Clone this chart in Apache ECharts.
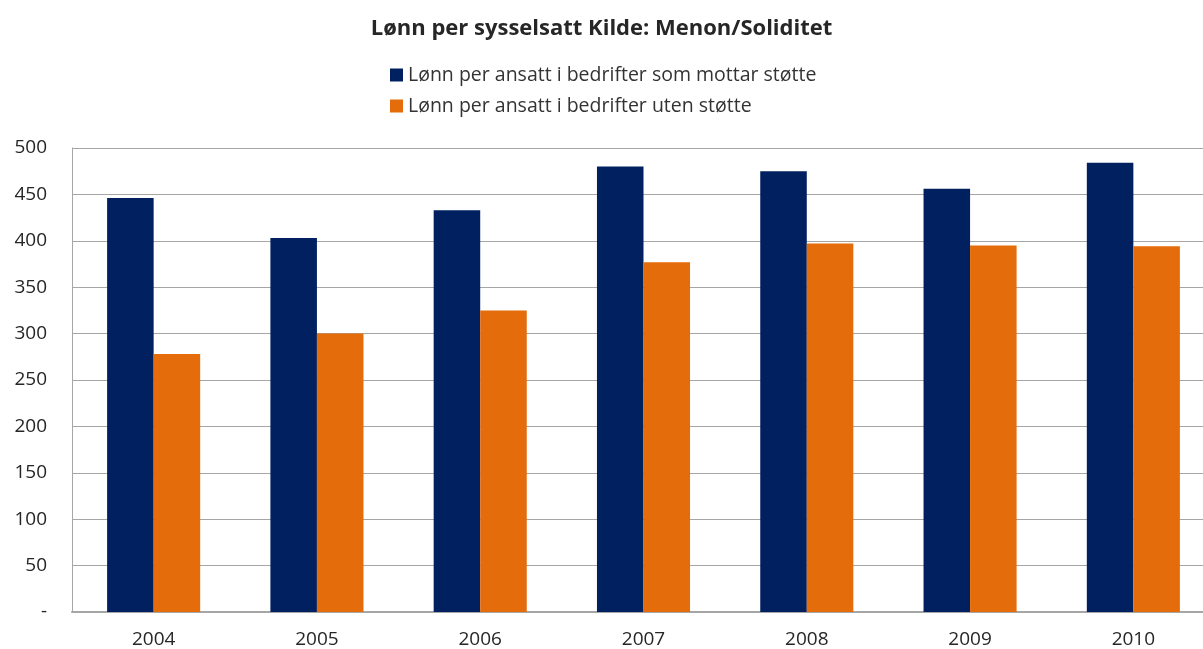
<!DOCTYPE html>
<html>
<head>
<meta charset="UTF-8">
<title>Lønn per sysselsatt</title>
<script src="https://cdn.jsdelivr.net/npm/echarts@6/dist/echarts.min.js"></script>
</head>
<body style="margin:0; background:#fff;">
<div id="main" style="width:1203px; height:649px;"></div>
<script>
// data
var years = ['2004', '2005', '2006', '2007', '2008', '2009', '2010'];
var medStotte = [446, 403, 433, 480, 475, 456, 484];
var utenStotte = [278, 300, 325, 377, 397, 395, 394];

var chart = echarts.init(document.getElementById('main'), null, { renderer: 'canvas' });
var font = '"Open Sans", "Noto Sans", sans-serif';

chart.setOption({
  animation: false,
  title: {
    text: 'Lønn per sysselsatt Kilde: Menon/Soliditet',
    left: 'center',
    top: 13,
    textStyle: { fontFamily: font, fontSize: 22, fontWeight: 'bold', color: '#262626' }
  },
  legend: {
    orient: 'vertical',
    left: 385,
    top: 60,
    itemWidth: 13,
    itemHeight: 13,
    itemGap: 11,
    icon: 'rect',
    textStyle: { fontFamily: font, fontSize: 19.5, color: '#333' },
    data: ['Lønn per ansatt i bedrifter som mottar støtte', 'Lønn per ansatt i bedrifter uten støtte']
  },
  // plot runs a little past the right edge of the picture
  grid: { left: 72, width: 1143, top: 148, bottom: 37, outerBoundsMode: 'none', containLabel: false },
  xAxis: {
    type: 'category',
    data: years,
    axisLine: { lineStyle: { color: '#a6a6a6', width: 2 } },
    axisTick: { show: false },
    axisLabel: { fontFamily: font, fontSize: 19, color: '#262626', margin: 18 }
  },
  yAxis: {
    type: 'value',
    min: 0,
    max: 500,
    interval: 50,
    axisLine: { show: true, lineStyle: { color: '#a6a6a6', width: 1 } },
    axisTick: { show: false },
    splitLine: { lineStyle: { color: '#a6a6a6', width: 1 } },
    axisLabel: {
      fontFamily: font, fontSize: 19, color: '#262626', margin: 25,
      formatter: function (v) { return v === 0 ? '-' : v; }
    }
  },
  series: [
    {
      name: 'Lønn per ansatt i bedrifter som mottar støtte',
      type: 'bar',
      data: medStotte,
      barGap: '0%',
      barCategoryGap: '43%',
      itemStyle: { color: '#002060' }
    },
    {
      name: 'Lønn per ansatt i bedrifter uten støtte',
      type: 'bar',
      data: utenStotte,
      barGap: '0%',
      barCategoryGap: '43%',
      itemStyle: { color: '#e46c0a' }
    }
  ]
});
</script>
</body>
</html>
